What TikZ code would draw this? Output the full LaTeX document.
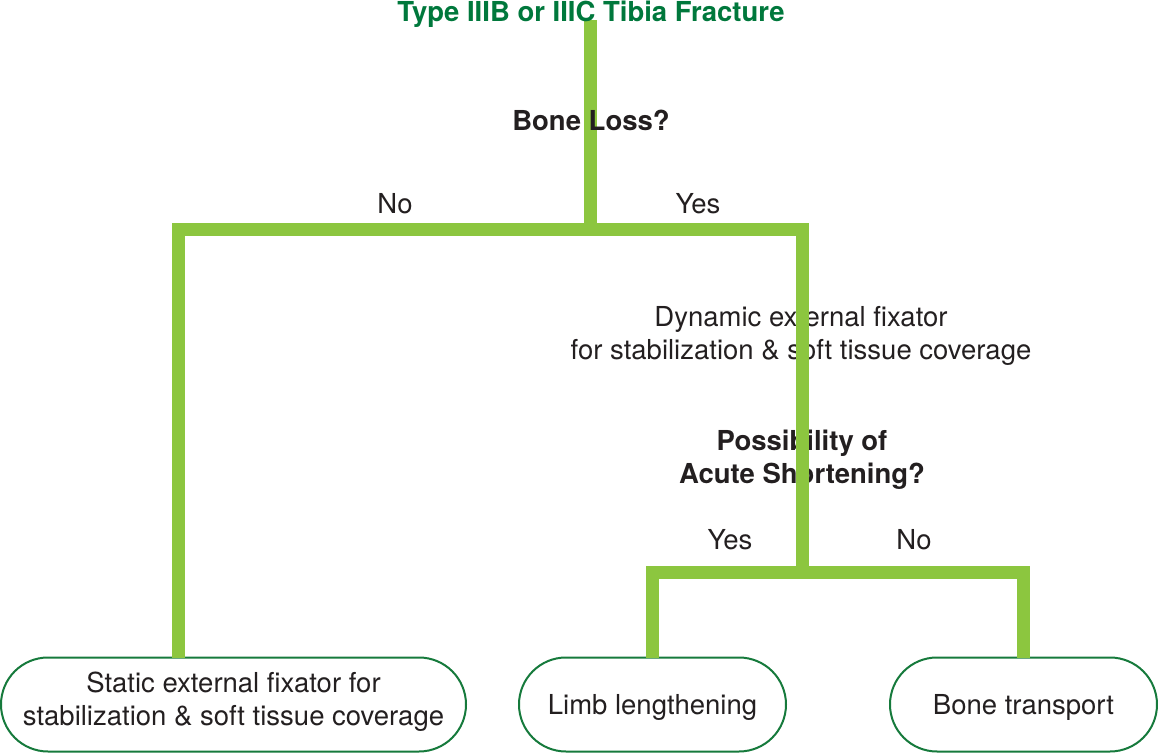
\documentclass[tikz,border=0pt]{standalone}
\usepackage{fontspec}
\setmainfont{TeX Gyre Heros}
\usetikzlibrary{shapes.misc}
\definecolor{lgreen}{HTML}{8CC63F}
\definecolor{dgreen}{HTML}{00783C}
\definecolor{boxgreen}{HTML}{167A3C}
\definecolor{txt}{HTML}{231F20}
\begin{document}
\begin{tikzpicture}[x=0.5pt,y=-0.5pt,
  every node/.style={inner sep=0pt,outer sep=0pt,text=txt,font=\fontsize{13.75}{16.5}\selectfont},
  branch/.style={draw=lgreen,line width=6.5pt,line join=miter},
  endbox/.style={draw=boxgreen,line width=1pt,rounded rectangle,minimum height=47pt,align=center,fill=white},
  onebox/.style={endbox,minimum width=133.5pt,text height=10pt,text depth=0pt},
  qtext/.style={font=\bfseries\fontsize{13.75}{16.5}\selectfont,align=center},
  plain/.style={align=center},
  lbl/.style={anchor=base},
]
\useasboundingbox (0,0) rectangle (1158,754);
% end boxes
\node[endbox,minimum width=232.5pt] (b1) at (233.5,704.5) {Static external fixator for\\stabilization \& soft tissue coverage\rule[-5.9pt]{0pt}{0pt}};
\node[onebox] (b2) at (652.5,704.5) {Limb lengthening};
\node[onebox] (b3) at (1023.5,704.5) {Bone transport};
% texts under the line
\node[plain] (dyn) at (801,335.5) {Dynamic external fixator\\for stabilization \& soft tissue coverage};
\node[qtext] (q2) at (802,460) {Possibility of\\Acute Shortening?};
% junctions
\coordinate (top) at (590.5,20);
\coordinate (j1) at (590.5,230);
\coordinate (j2) at (802,572);
\coordinate (c1) at (178.5,0);
\coordinate (c2) at (652,0);
\coordinate (c3) at (1023,0);
% connectors
\draw[branch] (top) -- (j1);
\draw[branch] (c1 |- b1.north) |- (j1) -| (j2);
\draw[branch] (c2 |- b2.north) |- (j2) -| (c3 |- b3.north);
% labels
\node[lbl] (no1) at (395,214) {No};
\node[lbl] (yes1) at (698,214) {Yes};
\node[lbl] (yes2) at (730,549) {Yes};
\node[lbl] (no2) at (914,549) {No};
% texts over the line
\node[qtext,lbl,text=dgreen] (title) at (591,22) {Type IIIB or IIIC Tibia Fracture};
\node[qtext,lbl] (q1) at (591,131) {Bone Loss?};
\end{tikzpicture}
\end{document}
